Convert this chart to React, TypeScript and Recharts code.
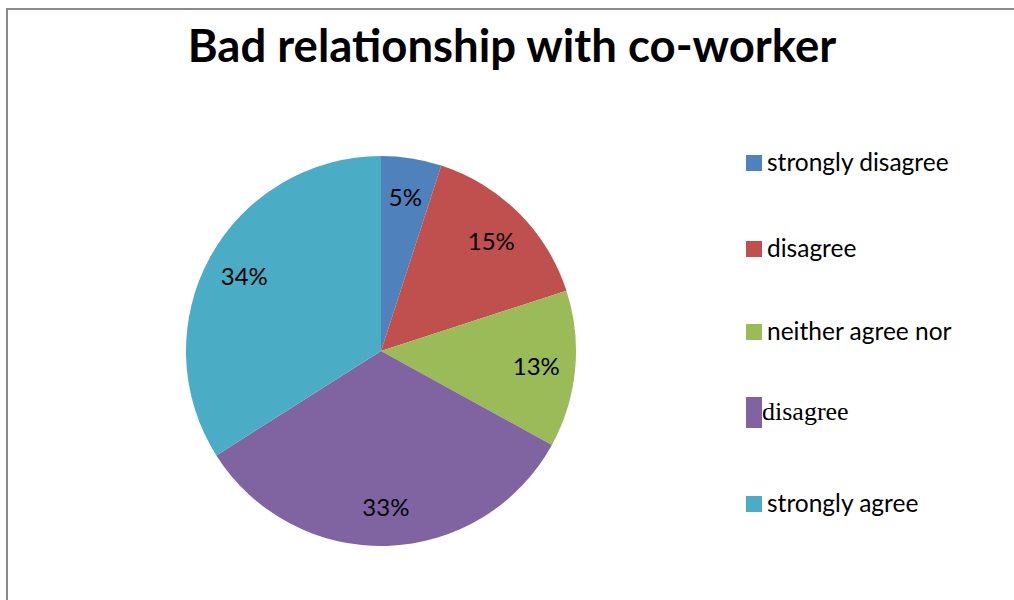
import { PieChart, Pie, Cell, Legend } from "recharts";

const CATEGORIES = ["strongly disagree", "disagree", "neither agree nor", "disagree", "strongly agree"];
const VALUES = [5, 15, 13, 33, 34];
const COLORS = ["#4F81BD", "#C0504D", "#9BBB59", "#8064A2", "#4BACC6"];

const DATA = CATEGORIES.map((name, i) => ({ name, value: VALUES[i], color: COLORS[i] }));

const FONT = "Lato, 'Open Sans', sans-serif";
// recharts adds its 5px margin to numeric cx/cy
const CX = 376;
const CY = 346;
const R = 195;

const renderLabel = ({ cx, cy, midAngle, outerRadius, percent }: any) => {
  const RADIAN = Math.PI / 180;
  const radius = outerRadius * 0.8;
  const x = cx + radius * Math.cos(-midAngle * RADIAN);
  const y = cy + radius * Math.sin(-midAngle * RADIAN);
  return (
    <text x={x} y={y} textAnchor="middle" dominantBaseline="central" fontFamily={FONT} fontSize={24} fill="#000">
      {`${Math.round(percent * 100)}%`}
    </text>
  );
};

// legend rows sit at uneven heights in the original
const ROW_Y = [161, 247, 330, 412, 502];

const renderLegend = () => (
  <div style={{ position: "relative", width: 260, height: 600 }}>
    {DATA.map((d, i) => {
      const serif = i === 3;
      const h = serif ? 31 : 16;
      return (
        <div key={i} style={{ position: "absolute", left: 0, top: ROW_Y[i] - 16, height: 32, display: "flex", alignItems: "center" }}>
          <div style={{ width: 16, height: h, backgroundColor: d.color, marginRight: serif ? 0 : 5, marginTop: serif ? 0 : 4 }} />
          <span
            style={{
              fontFamily: serif ? "'Liberation Serif', 'DejaVu Serif', serif" : FONT,
              fontSize: serif ? 26 : 24.5,
              color: "#000",
              whiteSpace: "nowrap",
            }}
          >
            {d.name}
          </span>
        </div>
      );
    })}
  </div>
);

export default function App() {
  return (
    <div style={{ position: "relative", width: 1014, height: 600, background: "#fff", overflow: "hidden" }}>
      <style>{`body{margin:0}`}</style>
      <div style={{ position: "absolute", left: 6, top: 8, right: 0, bottom: 0, borderLeft: "2px solid #8a8a8a", borderTop: "2px solid #8a8a8a" }} />
      <div style={{ position: "absolute", left: 0, width: 1024, top: 17, textAlign: "center", fontFamily: FONT, fontWeight: 700, fontSize: 45.5, color: "#000" }}>
        Bad relationship with co-worker
      </div>
      <div style={{ position: "absolute", left: 0, top: 0 }}>
        <PieChart width={1014} height={600}>
          <Pie
            data={DATA}
            dataKey="value"
            nameKey="name"
            cx={CX}
            cy={CY}
            outerRadius={R}
            startAngle={90}
            endAngle={-270}
            label={renderLabel}
            labelLine={false}
            isAnimationActive={false}
            stroke="none"
          >
            {DATA.map((d, i) => (
              <Cell key={i} fill={d.color} stroke="none" />
            ))}
          </Pie>
          <Legend
            layout="vertical"
            align="right"
            verticalAlign="top"
            content={renderLegend}
            wrapperStyle={{ position: "absolute", left: 746, top: 0, width: 260, height: 600 }}
          />
        </PieChart>
      </div>
    </div>
  );
}
